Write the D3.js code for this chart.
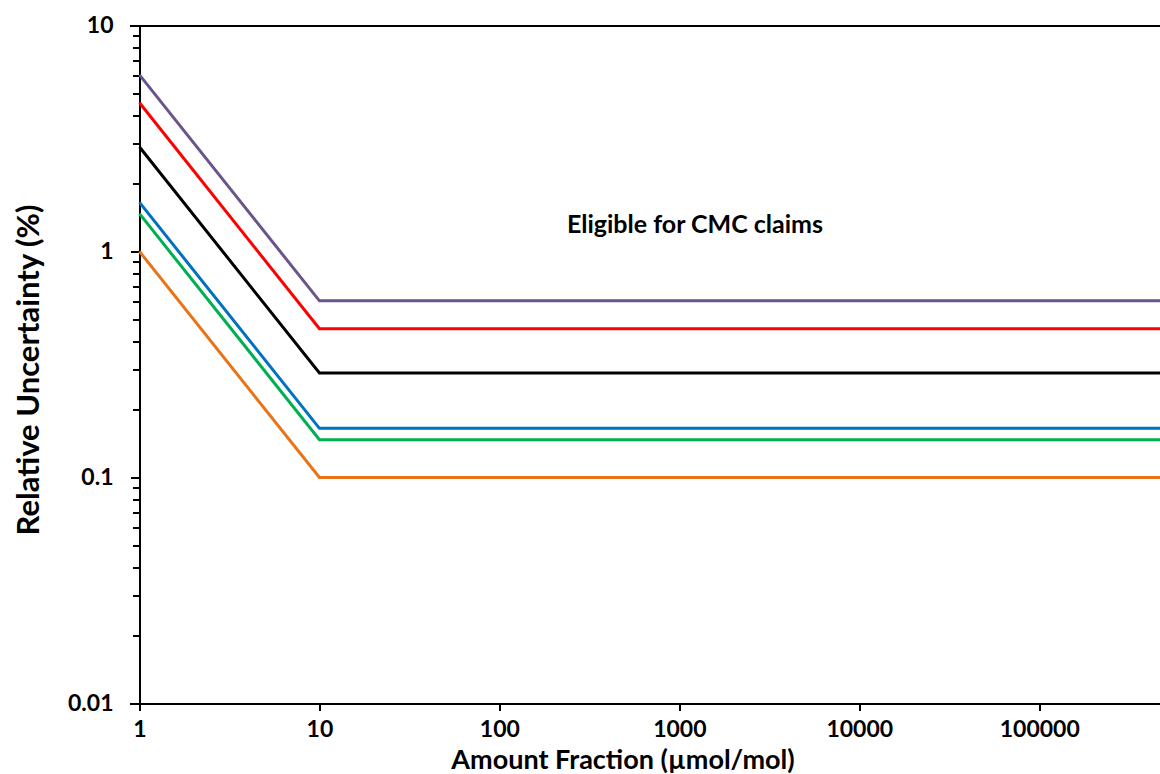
<!doctype html>
<html>
<head>
<meta charset="utf-8">
<title>Relative Uncertainty vs Amount Fraction</title>
<script src="https://d3js.org/d3.v7.min.js"></script>
<style>
  body { margin: 0; background: #fff; }
  svg { display: block; font-family: Lato, "Open Sans", sans-serif; font-weight: bold; }
  .axis path, .axis line { stroke: #000; stroke-width: 2; shape-rendering: crispEdges; }
  .axis text { font-family: Lato, "Open Sans", sans-serif; font-weight: bold; font-size: 23px; fill: #000; }
</style>
</head>
<body>
<script>
// amount fraction points where each line bends (1 -> 10 slope, then flat)
var xPoints = [1, 10, 500000];
var seriesNames = ["purple", "red", "black", "blue", "green", "orange"];
var seriesColors = ["#6a558a", "#ff0000", "#000000", "#0070c0", "#00b050", "#e97417"];
var seriesValues = [
  [6.05, 0.605, 0.605],
  [4.55, 0.455, 0.455],
  [2.9, 0.29, 0.29],
  [1.65, 0.165, 0.165],
  [1.47, 0.147, 0.147],
  [1.0, 0.1, 0.1]
];
var xTicks = [1, 10, 100, 1000, 10000, 100000];
var yTicks = [0.01, 0.1, 1, 10];

var width = 1160, height = 774;

var x = d3.scaleLog().domain([1, 500000]).range([139.5, 1165]);
var y = d3.scaleLog().domain([0.01, 10]).range([703.5, 25.5]);

var svg = d3.select("body").append("svg")
    .attr("width", width)
    .attr("height", height);

// minor ticks on the y axis (2..9 in each decade)
var minor = [];
[0.01, 0.1, 1].forEach(function(d) {
  for (var k = 2; k <= 9; k++) minor.push(d * k);
});
svg.append("g")
    .attr("class", "axis")
    .attr("transform", "translate(" + x(1) + ",0)")
    .call(d3.axisLeft(y).tickValues(minor).tickSize(7).tickFormat(""))
    .select(".domain").remove();

// y axis
svg.append("g")
    .attr("class", "axis")
    .attr("transform", "translate(" + x(1) + ",0)")
    .call(d3.axisLeft(y).tickValues(yTicks).tickSize(9).tickSizeOuter(0).tickPadding(17)
      .tickFormat(function(d) { return String(+d.toPrecision(1)); }));

// x axis
svg.append("g")
    .attr("class", "axis")
    .attr("transform", "translate(0," + y(0.01) + ")")
    .call(d3.axisBottom(x).tickValues(xTicks).tickSize(7).tickSizeOuter(0).tickPadding(10)
      .tickFormat(d3.format("d")));

// extend x axis line to the left like the original, and top frame line
svg.append("line")
    .attr("x1", 130).attr("x2", x(1))
    .attr("y1", y(0.01)).attr("y2", y(0.01))
    .attr("stroke", "#000").attr("stroke-width", 2).attr("shape-rendering", "crispEdges");
svg.append("line")
    .attr("x1", 130).attr("x2", width)
    .attr("y1", y(10)).attr("y2", y(10))
    .attr("stroke", "#000").attr("stroke-width", 2).attr("shape-rendering", "crispEdges");

// lines
var line = d3.line()
    .x(function(d) { return x(d[0]); })
    .y(function(d) { return y(d[1]); });

seriesValues.forEach(function(vals, i) {
  svg.append("path")
      .datum(xPoints.map(function(p, j) { return [p, vals[j]]; }))
      .attr("class", "series " + seriesNames[i])
      .attr("fill", "none")
      .attr("stroke", seriesColors[i])
      .attr("stroke-width", 3)
      .attr("d", line);
});

// annotation
svg.append("text")
    .attr("x", 695)
    .attr("y", 233)
    .attr("text-anchor", "middle")
    .style("font-size", "25px")
    .text("Eligible for CMC claims");

// axis titles
svg.append("text")
    .attr("x", 623)
    .attr("y", 769)
    .attr("text-anchor", "middle")
    .style("font-size", "27px")
    .text("Amount Fraction (\u00b5mol/mol)");

svg.append("text")
    .attr("transform", "translate(39,370) rotate(-90)")
    .attr("text-anchor", "middle")
    .style("font-size", "31px")
    .text("Relative Uncertainty (%)");
</script>
</body>
</html>
